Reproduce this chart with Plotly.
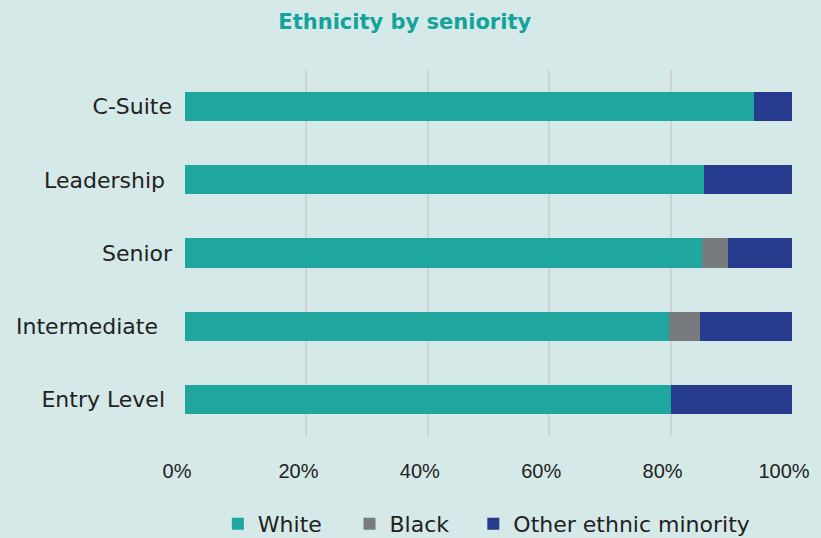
import plotly.graph_objects as go

categories = ["C-Suite", "Leadership\u00a0", "Senior", "Intermediate\u00a0\u00a0", "Entry Level\u00a0"]
white = [93.7, 85.5, 85.1, 79.7, 80.1]
black = [0, 0, 4.3, 5.1, 0]
other = [6.3, 14.5, 10.6, 15.2, 19.9]
x_ticks = [0, 20, 40, 60, 80, 100]
x_tick_labels = ["0%", "20%", "40%", "60%", "80%", "100%"]

series = [
    ("White", white, "#1FA79F", "legend", 0.0541),
    ("Black", black, "#777B7E", "legend2", 0.271),
    ("Other ethnic minority", other, "#263A8E", "legend3", 0.475),
]

font_family = "DejaVu Sans, Inter, sans-serif"

fig = go.Figure()
legends = {}
for name, vals, color, leg, lx in series:
    fig.add_trace(go.Bar(
        y=categories, x=vals, name=name, orientation="h",
        marker=dict(color=color, line=dict(width=0)),
        width=0.4, legend=leg,
    ))
    legends[leg] = dict(orientation="h", x=lx, xanchor="left", y=-0.24, yanchor="middle",
                        font=dict(family=font_family, size=22, color="#222222"),
                        itemwidth=30, bgcolor="rgba(0,0,0,0)")

fig.update_layout(
    barmode="stack",
    width=821, height=538,
    paper_bgcolor="#D5E9E8",
    plot_bgcolor="#D5E9E8",
    margin=dict(l=185, r=29, t=70, b=102, autoexpand=False),
    title=dict(text="<b>Ethnicity by seniority</b>", x=0.493, xanchor="center",
               y=0.96, yanchor="middle",
               font=dict(family=font_family, size=21, color="#14A39A")),
    font=dict(family=font_family, size=22, color="#222222"),
    showlegend=True,
    **legends,
)
fig.update_xaxes(
    range=[0, 100], tickvals=x_ticks, ticktext=x_tick_labels,
    tickfont=dict(family="Liberation Sans, Arial, sans-serif", size=20, color="#222222"),
    showgrid=True, gridcolor="#CFD3D4", gridwidth=2,
    zeroline=False, showline=False, ticks="", ticklabelstandoff=21,
    ticklabelshift=-8,
    fixedrange=True,
)
fig.update_yaxes(
    categoryorder="array", categoryarray=categories, autorange="reversed",
    showgrid=False, zeroline=False, showline=False, ticks="",
    ticklabelstandoff=12,
)
fig.write_html("out.html", config={"displayModeBar": False},
               post_script="document.body.style.margin='0';document.body.style.background='#D5E9E8';")
